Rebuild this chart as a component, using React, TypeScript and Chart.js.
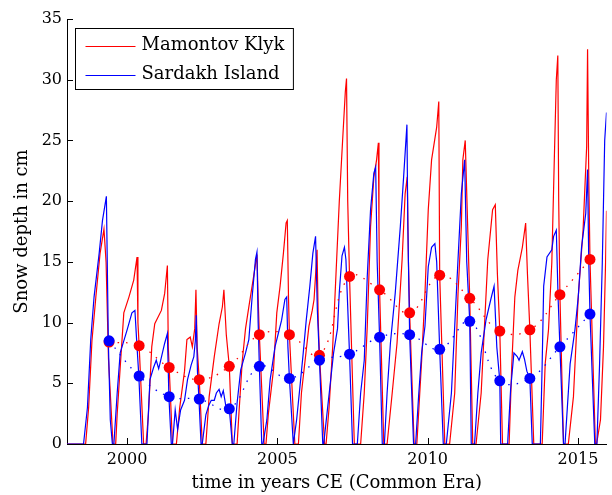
import { useEffect, useRef } from "react";
import { Chart, registerables } from "chart.js";

Chart.register(...registerables);

// ---- data (decimal year, snow depth in cm) ----
const mamontovKlyk: [number, number][] = [
  [1998.0, 0], [1998.62, 0], [1998.72, 3.0], [1998.83, 8.5], [1998.96, 12.1], [1999.1, 15.7], [1999.23, 17.7], [1999.3, 15], [1999.38, 7], [1999.53, 0],
  [1999.62, 0], [1999.67, 2.5], [1999.77, 6.3], [1999.89, 10.8], [2000.06, 12.1], [2000.22, 13.5], [2000.33, 15.4], [2000.36, 10], [2000.4, 8.1], [2000.55, 0],
  [2000.63, 0], [2000.71, 2.5], [2000.82, 8.0], [2000.92, 9.9], [2001.14, 11.0], [2001.25, 12.4], [2001.34, 14.7], [2001.37, 8], [2001.4, 6.3], [2001.51, 0],
  [2001.64, 0], [2001.75, 3.0], [2001.91, 6.0], [2001.99, 8.6], [2002.1, 8.8], [2002.17, 8.0], [2002.25, 9.5], [2002.29, 12.7], [2002.33, 8], [2002.4, 5.3], [2002.5, 0],
  [2002.62, 0], [2002.73, 3.9], [2002.9, 7.2], [2003.06, 9.9], [2003.17, 11.3], [2003.22, 12.7], [2003.3, 9], [2003.4, 6.4], [2003.5, 0],
  [2003.66, 0], [2003.72, 2.5], [2003.83, 6.8], [2003.94, 9.5], [2004.05, 11.3], [2004.21, 13.8], [2004.32, 15.6], [2004.36, 12], [2004.4, 9.0], [2004.56, 0],
  [2004.62, 0], [2004.7, 2.5], [2004.87, 6.1], [2004.98, 10.8], [2005.09, 13.0], [2005.2, 15.7], [2005.29, 18.2], [2005.33, 18.4], [2005.37, 12], [2005.4, 9.0], [2005.58, 0],
  [2005.7, 0], [2005.8, 4.2], [2005.95, 7.5], [2006.05, 9.7], [2006.16, 11.0], [2006.22, 11.9], [2006.28, 14.3], [2006.32, 16.0], [2006.36, 10], [2006.4, 7.3], [2006.57, 0],
  [2006.62, 0], [2006.72, 3], [2006.84, 8], [2006.95, 14], [2007.06, 20], [2007.17, 25], [2007.26, 29], [2007.3, 30.1], [2007.34, 20], [2007.4, 13.8], [2007.56, 0],
  [2007.77, 0], [2007.89, 4.2], [2007.99, 9.7], [2008.1, 17.9], [2008.21, 22.0], [2008.3, 23.4], [2008.36, 24.8], [2008.38, 18], [2008.4, 12.7], [2008.54, 0],
  [2008.65, 0], [2008.82, 4.2], [2008.98, 8.3], [2009.15, 15.2], [2009.25, 20.6], [2009.32, 22.0], [2009.36, 15], [2009.4, 10.8], [2009.55, 0],
  [2009.64, 0], [2009.8, 6.9], [2009.91, 12.4], [2010.02, 19.3], [2010.13, 23.4], [2010.3, 26.1], [2010.37, 28.2], [2010.4, 13.9], [2010.57, 0],
  [2010.73, 0], [2010.9, 4.2], [2011.01, 12.4], [2011.12, 17.9], [2011.17, 23.4], [2011.25, 25.0], [2011.33, 18], [2011.4, 12.0], [2011.5, 0],
  [2011.61, 0], [2011.78, 4.2], [2011.89, 9.7], [2012.0, 15.2], [2012.16, 19.3], [2012.25, 19.7], [2012.32, 14], [2012.4, 9.3], [2012.49, 0],
  [2012.71, 0], [2012.8, 6.6], [2012.9, 12.1], [2013.0, 14.3], [2013.15, 16.2], [2013.26, 18.2], [2013.32, 14], [2013.4, 9.4], [2013.53, 0],
  [2013.81, 0], [2013.91, 6.6], [2014.02, 9.4], [2014.13, 14.9], [2014.21, 23.1], [2014.28, 30.0], [2014.33, 32.0], [2014.36, 20], [2014.4, 12.3], [2014.52, 0],
  [2014.68, 0], [2014.85, 3.9], [2015.01, 12.1], [2015.17, 17.6], [2015.29, 24.5], [2015.32, 32.5], [2015.36, 22], [2015.4, 15.2], [2015.58, 0],
  [2015.62, 0], [2015.75, 2], [2015.85, 8], [2015.92, 15], [2015.95, 19.2],
];

const sardakhIsland: [number, number][] = [
  [1998.0, 0], [1998.55, 0], [1998.68, 3.0], [1998.79, 8.6], [1998.9, 12.1], [1999.07, 15.7], [1999.18, 18.4], [1999.31, 20.4], [1999.375, 8.5], [1999.44, 2], [1999.51, 0],
  [1999.56, 0], [1999.67, 4.2], [1999.77, 7.5], [2000.0, 9.4], [2000.16, 10.8], [2000.26, 11.0], [2000.33, 8], [2000.39, 5.6], [2000.49, 0],
  [2000.66, 0], [2000.76, 5.3], [2000.88, 6.3], [2000.97, 6.9], [2001.05, 6.2], [2001.09, 6.6], [2001.25, 8.3], [2001.34, 9.1], [2001.39, 3.9], [2001.47, 0],
  [2001.51, 0], [2001.6, 2.8], [2001.68, 1.2], [2001.78, 2.8], [2001.91, 3.6], [2002.01, 5.3], [2002.13, 6.5], [2002.22, 7.2], [2002.27, 8.5], [2002.3, 10.6], [2002.34, 6], [2002.39, 3.7], [2002.46, 0],
  [2002.5, 0], [2002.62, 2.4], [2002.72, 3.2], [2002.8, 3.6], [2002.9, 3.6], [2002.97, 4.2], [2003.06, 4.5], [2003.13, 3.9], [2003.2, 4.4], [2003.28, 3.2], [2003.36, 3.0], [2003.4, 2.9], [2003.5, 0],
  [2003.55, 0], [2003.66, 3.4], [2003.78, 6.1], [2003.94, 7.5], [2004.05, 8.6], [2004.16, 12.1], [2004.27, 15.2], [2004.32, 15.8], [2004.36, 10], [2004.4, 6.4], [2004.48, 0],
  [2004.52, 0], [2004.65, 2.0], [2004.76, 5.3], [2004.92, 8.0], [2005.03, 9.1], [2005.14, 10.2], [2005.25, 11.9], [2005.31, 12.1], [2005.35, 8], [2005.4, 5.4], [2005.53, 0],
  [2005.55, 0], [2005.64, 2.0], [2005.75, 4.7], [2005.86, 7.5], [2005.96, 10.2], [2006.08, 13.0], [2006.18, 15.7], [2006.27, 17.1], [2006.33, 11], [2006.4, 6.9], [2006.51, 0],
  [2006.54, 0], [2006.65, 2.5], [2006.76, 5.0], [2006.87, 7.5], [2007.0, 9.5], [2007.06, 12.5], [2007.15, 15.5], [2007.23, 16.2], [2007.28, 15.2], [2007.4, 7.4], [2007.5, 0],
  [2007.66, 0], [2007.77, 4.2], [2007.89, 6.9], [2007.99, 13.8], [2008.1, 19.3], [2008.21, 22.3], [2008.27, 22.8], [2008.32, 15], [2008.4, 8.8], [2008.49, 0],
  [2008.56, 0], [2008.65, 4.2], [2008.76, 8.3], [2008.92, 12.4], [2009.09, 17.9], [2009.2, 22.0], [2009.31, 26.3], [2009.34, 18], [2009.4, 9.0], [2009.53, 0],
  [2009.6, 0], [2009.7, 4.0], [2009.8, 7.5], [2009.91, 9.7], [2010.02, 14.6], [2010.13, 16.2], [2010.24, 16.5], [2010.3, 15.0], [2010.4, 7.8], [2010.52, 0],
  [2010.62, 0], [2010.79, 4.2], [2010.9, 9.7], [2011.01, 15.2], [2011.12, 20.6], [2011.23, 23.4], [2011.3, 15], [2011.4, 10.1], [2011.45, 0],
  [2011.56, 0], [2011.67, 4.2], [2011.78, 7.5], [2011.94, 10.2], [2012.1, 11.9], [2012.21, 13.0], [2012.3, 8], [2012.4, 5.2], [2012.43, 0],
  [2012.66, 0], [2012.76, 4.5], [2012.87, 7.5], [2012.98, 7.2], [2013.04, 6.9], [2013.15, 7.6], [2013.22, 7.0], [2013.3, 6.0], [2013.4, 5.4], [2013.48, 0],
  [2013.75, 0], [2013.81, 6.6], [2013.86, 13.0], [2013.97, 15.4], [2014.13, 16.0], [2014.19, 17.1], [2014.28, 17.6], [2014.34, 12], [2014.4, 8.0], [2014.52, 0],
  [2014.57, 0], [2014.74, 6.6], [2014.9, 9.4], [2015.01, 12.1], [2015.12, 16.2], [2015.26, 19.0], [2015.32, 22.6], [2015.36, 15], [2015.4, 10.7], [2015.56, 0],
  [2015.63, 0], [2015.72, 6.6], [2015.81, 14.9], [2015.89, 25.0], [2015.95, 27.3],
];

const meanYears = [1999.4, 2000.4, 2001.4, 2002.4, 2003.4, 2004.4, 2005.4, 2006.4, 2007.4, 2008.4, 2009.4, 2010.4, 2011.4, 2012.4, 2013.4, 2014.4, 2015.4];
const mamontovMean = [8.4, 8.1, 6.3, 5.3, 6.4, 9.0, 9.0, 7.3, 13.8, 12.7, 10.8, 13.9, 12.0, 9.3, 9.4, 12.3, 15.2];
const sardakhMean = [8.5, 5.6, 3.9, 3.7, 2.9, 6.4, 5.4, 6.9, 7.4, 8.8, 9.0, 7.8, 10.1, 5.2, 5.4, 8.0, 10.7];

const xTicks = [2000, 2005, 2010, 2015];
const yTicks = [0, 5, 10, 15, 20, 25, 30, 35];
const xRange = [1998, 2015.95];
const yRange = [0, 35];

const seriesNames = ["Mamontov Klyk", "Sardakh Island"];
const xTitle = "time in years CE (Common Era)";
const yTitle = "Snow depth in cm";

const RED = "#ff0000";
const BLUE = "#0000ff";
const FONT = "'DejaVu Serif', serif";

const overlayPlugin = {
  id: "overlay",
  afterDraw(chart: any) {
    const { ctx, chartArea, scales } = chart;
    ctx.save();
    // inward tick marks
    ctx.strokeStyle = "#000";
    ctx.lineWidth = 1;
    ctx.beginPath();
    xTicks.forEach((v) => {
      const x = Math.round(scales.x.getPixelForValue(v)) + 0.5;
      ctx.moveTo(x, chartArea.bottom);
      ctx.lineTo(x, chartArea.bottom - 6);
    });
    yTicks.forEach((v) => {
      const y = Math.round(scales.y.getPixelForValue(v)) + 0.5;
      ctx.moveTo(chartArea.left, y);
      ctx.lineTo(chartArea.left + 6, y);
    });
    ctx.stroke();

    // legend box
    const entries = chart.data.datasets.filter((d: any) => seriesNames.includes(d.label));
    entries.sort((a: any, b: any) => seriesNames.indexOf(a.label) - seriesNames.indexOf(b.label));
    ctx.font = `18px ${FONT}`;
    const maxW = Math.max(...entries.map((d: any) => ctx.measureText(d.label).width));
    const bx = Math.round(chartArea.left + 8) + 0.5;
    const by = Math.round(chartArea.top + 9) + 0.5;
    const lineX0 = bx + 10;
    const lineX1 = bx + 60;
    const textX = bx + 66;
    const rowH = 29;
    const bw = textX - bx + maxW + 9;
    const bh = 61;
    ctx.fillStyle = "#fff";
    ctx.fillRect(bx, by, bw, bh);
    ctx.strokeStyle = "#000";
    ctx.strokeRect(bx, by, bw, bh);
    entries.forEach((d: any, i: number) => {
      const cy = by + 17 + i * rowH;
      ctx.strokeStyle = d.borderColor;
      ctx.lineWidth = 1.2;
      ctx.beginPath();
      ctx.moveTo(lineX0, Math.round(cy) + 0.5);
      ctx.lineTo(lineX1, Math.round(cy) + 0.5);
      ctx.stroke();
      ctx.fillStyle = "#000";
      ctx.textBaseline = "middle";
      ctx.textAlign = "left";
      ctx.fillText(d.label, textX, cy);
    });
    ctx.restore();
  },
};

export default function App() {
  const ref = useRef<HTMLCanvasElement | null>(null);
  useEffect(() => {
    document.body.style.margin = "0";
    const canvas = ref.current;
    if (!canvas) return;
    const chart = new Chart(canvas, {
      type: "line",
      data: {
        datasets: [
          {
            label: "Sardakh Island mean",
            data: meanYears.map((x, i) => ({ x, y: sardakhMean[i] })),
            borderColor: BLUE,
            backgroundColor: BLUE,
            borderWidth: 1.3,
            borderDash: [1.5, 7],
            pointRadius: 5.5,
            pointBorderWidth: 0,
            pointBackgroundColor: BLUE,
            tension: 0.4,
            order: 0,
          },
          {
            label: "Mamontov Klyk mean",
            data: meanYears.map((x, i) => ({ x, y: mamontovMean[i] })),
            borderColor: RED,
            backgroundColor: RED,
            borderWidth: 1.3,
            borderDash: [1.5, 7],
            pointRadius: 5.5,
            pointBorderWidth: 0,
            pointBackgroundColor: RED,
            tension: 0.4,
            order: 1,
          },
          {
            label: seriesNames[1],
            data: sardakhIsland.map(([x, y]) => ({ x, y })),
            borderColor: BLUE,
            borderWidth: 1.2,
            pointRadius: 0,
            tension: 0,
            order: 2,
          },
          {
            label: seriesNames[0],
            data: mamontovKlyk.map(([x, y]) => ({ x, y })),
            borderColor: RED,
            borderWidth: 1.2,
            pointRadius: 0,
            tension: 0,
            order: 3,
          },
        ],
      },
      options: {
        responsive: false,
        animation: false,
        events: [],
        layout: { padding: { top: 19, right: 0, left: 0, bottom: 0 } },
        plugins: { legend: { display: false }, tooltip: { enabled: false } },
        scales: {
          x: {
            type: "linear",
            min: xRange[0],
            max: xRange[1],
            border: { display: true, color: "#000", width: 1 },
            grid: { display: false, drawTicks: false },
            afterBuildTicks: (s: any) => {
              s.ticks = xTicks.map((value) => ({ value }));
            },
            afterFit: (s: any) => {
              s.height = 51;
            },
            ticks: {
              color: "#000",
              font: { family: FONT, size: 16 },
              padding: 6,
              maxRotation: 0,
              autoSkip: false,
              callback: (v: any) => String(v),
            },
            title: {
              display: true,
              text: xTitle,
              color: "#000",
              font: { family: FONT, size: 18 },
              padding: { top: 0, bottom: 1 },
            },
          },
          y: {
            type: "linear",
            min: yRange[0],
            max: yRange[1],
            border: { display: true, color: "#000", width: 1 },
            grid: { display: false, drawTicks: false },
            afterBuildTicks: (s: any) => {
              s.ticks = yTicks.map((value) => ({ value }));
            },
            afterFit: (s: any) => {
              s.width = 67;
            },
            ticks: {
              color: "#000",
              font: { family: FONT, size: 16 },
              padding: 5,
              autoSkip: false,
              callback: (v: any) => String(v),
            },
            title: {
              display: true,
              text: yTitle,
              color: "#000",
              font: { family: FONT, size: 18 },
              padding: { top: 12, bottom: 0 },
            },
          },
        },
      },
      plugins: [overlayPlugin],
    });
    return () => chart.destroy();
  }, []);
  return (
    <div style={{ width: 612, height: 495 }}>
      <canvas ref={ref} width={612} height={495} style={{ display: "block" }} />
    </div>
  );
}
